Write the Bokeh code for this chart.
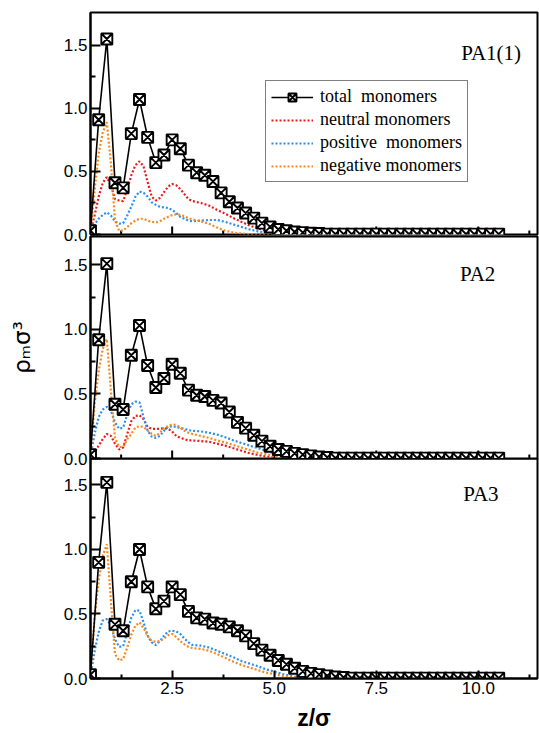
import math
from bokeh.plotting import figure
from bokeh.layouts import column
from bokeh.models import Range1d, FixedTicker, PrintfTickFormatter, Label, Legend, LegendItem
from bokeh.embed import file_html
from bokeh.resources import INLINE

# ---------------- data ----------------
Z_TOTAL = [0.5, 0.7, 0.9, 1.1, 1.3, 1.5, 1.7, 1.9, 2.1, 2.3, 2.5, 2.7, 2.9, 3.1, 3.3, 3.5, 3.7,
           3.9, 4.1, 4.3, 4.5, 4.7, 4.9, 5.1, 5.3, 5.5, 5.7, 5.9, 6.1, 6.3, 6.5, 6.7, 6.9, 7.1,
           7.3, 7.5, 7.7, 7.9, 8.1, 8.3, 8.5, 8.7, 8.9, 9.1, 9.3, 9.5, 9.7, 9.9, 10.1, 10.3, 10.5]

Z_CURVE = [0.5, 0.6, 0.7, 0.8, 0.9, 1.0, 1.1, 1.2, 1.3, 1.4, 1.5, 1.6, 1.7, 1.8, 1.9, 2.0,
           2.1, 2.2, 2.3, 2.4, 2.5, 2.6, 2.7, 2.8, 2.9, 3.0, 3.2, 3.4, 3.6, 3.8, 4.0, 4.2,
           4.4, 4.6, 4.8, 5.0, 5.2, 5.4, 5.6, 5.8, 6.0, 10.5]

# PA1(1)
PA1_TOTAL = [0.03, 0.91, 1.55, 0.41, 0.37, 0.80, 1.07, 0.77, 0.57, 0.63, 0.75, 0.68, 0.55, 0.49,
             0.47, 0.42, 0.33, 0.26, 0.21, 0.17, 0.13, 0.09, 0.06, 0.04, 0.03, 0.02, 0.015, 0.01,
             0.008, 0.003, 0.003, 0.003, 0.003, 0.003, 0.003, 0.003, 0.003, 0.003, 0.003, 0.003,
             0.003, 0.003, 0.003, 0.003, 0.003, 0.003, 0.003, 0.003, 0.003, 0.003, 0.003]
PA1_NEUTRAL = [0.02, 0.15, 0.30, 0.41, 0.455, 0.39, 0.28, 0.27, 0.265, 0.36, 0.47, 0.55, 0.58,
               0.54, 0.415, 0.30, 0.27, 0.29, 0.335, 0.38, 0.40, 0.39, 0.36, 0.32, 0.28, 0.265,
               0.25, 0.23, 0.195, 0.165, 0.13, 0.10, 0.07, 0.05, 0.03, 0.02, 0.01, 0.005, 0.003,
               0.002, 0.001, 0.0]
PA1_POSITIVE = [0.01, 0.08, 0.125, 0.155, 0.175, 0.15, 0.105, 0.085, 0.09, 0.15, 0.22, 0.30, 0.34,
                0.33, 0.30, 0.255, 0.235, 0.22, 0.215, 0.21, 0.195, 0.17, 0.14, 0.125, 0.11, 0.105,
                0.11, 0.115, 0.115, 0.10, 0.08, 0.06, 0.04, 0.025, 0.015, 0.008, 0.003, 0.002,
                0.001, 0.0, 0.0, 0.0]
PA1_NEGATIVE = [0.01, 0.35, 0.64, 0.81, 0.89, 0.56, 0.11, 0.03, 0.03, 0.06, 0.09, 0.11, 0.125,
                0.125, 0.11, 0.10, 0.095, 0.105, 0.125, 0.14, 0.155, 0.16, 0.155, 0.145, 0.13, 0.12,
                0.105, 0.085, 0.055, 0.03, 0.015, 0.008, 0.003, 0.001, 0.0, 0.0, 0.0, 0.0, 0.0,
                0.0, 0.0, 0.0]

# PA2
PA2_TOTAL = [0.03, 0.92, 1.51, 0.42, 0.38, 0.80, 1.03, 0.72, 0.55, 0.62, 0.73, 0.66, 0.53, 0.49,
             0.48, 0.45, 0.43, 0.36, 0.28, 0.235, 0.18, 0.135, 0.095, 0.07, 0.055, 0.04, 0.03,
             0.02, 0.012, 0.008, 0.003, 0.003, 0.003, 0.003, 0.003, 0.003, 0.003, 0.003, 0.003,
             0.003, 0.003, 0.003, 0.003, 0.003, 0.003, 0.003, 0.003, 0.003, 0.003, 0.003, 0.003]
PA2_NEUTRAL = [0.01, 0.045, 0.10, 0.15, 0.19, 0.175, 0.115, 0.07, 0.085, 0.19, 0.29, 0.33, 0.335,
               0.305, 0.245, 0.23, 0.23, 0.23, 0.235, 0.23, 0.21, 0.175, 0.16, 0.15, 0.14, 0.14,
               0.135, 0.13, 0.115, 0.10, 0.08, 0.06, 0.04, 0.028, 0.015, 0.008, 0.003, 0.001,
               0.0, 0.0, 0.0, 0.0]
PA2_POSITIVE = [0.02, 0.19, 0.32, 0.38, 0.40, 0.37, 0.28, 0.23, 0.24, 0.34, 0.42, 0.44, 0.435,
                0.32, 0.215, 0.17, 0.16, 0.175, 0.215, 0.245, 0.25, 0.245, 0.235, 0.23, 0.22, 0.215,
                0.21, 0.20, 0.185, 0.165, 0.14, 0.12, 0.10, 0.08, 0.06, 0.04, 0.025, 0.012, 0.005,
                0.002, 0.001, 0.0]
PA2_NEGATIVE = [0.02, 0.42, 0.68, 0.85, 0.925, 0.52, 0.16, 0.09, 0.09, 0.15, 0.19, 0.24, 0.25,
                0.245, 0.215, 0.19, 0.175, 0.20, 0.235, 0.25, 0.265, 0.26, 0.24, 0.215, 0.20, 0.19,
                0.175, 0.16, 0.14, 0.125, 0.105, 0.085, 0.065, 0.045, 0.035, 0.02, 0.01, 0.005,
                0.002, 0.001, 0.0, 0.0]

# PA3
PA3_TOTAL = [0.03, 0.90, 1.52, 0.42, 0.37, 0.75, 1.00, 0.71, 0.54, 0.60, 0.71, 0.65, 0.52, 0.47,
             0.46, 0.43, 0.42, 0.40, 0.37, 0.33, 0.27, 0.22, 0.18, 0.14, 0.11, 0.08, 0.055, 0.04,
             0.03, 0.02, 0.012, 0.008, 0.003, 0.003, 0.003, 0.003, 0.003, 0.003, 0.003, 0.003,
             0.003, 0.003, 0.003, 0.003, 0.003, 0.003, 0.003, 0.003, 0.003, 0.003, 0.003]
PA3_POSITIVE = [0.02, 0.21, 0.36, 0.45, 0.46, 0.41, 0.305, 0.245, 0.25, 0.36, 0.47, 0.53, 0.525,
                0.435, 0.33, 0.28, 0.26, 0.29, 0.33, 0.365, 0.37, 0.365, 0.345, 0.31, 0.28, 0.26,
                0.255, 0.24, 0.215, 0.19, 0.165, 0.135, 0.115, 0.095, 0.07, 0.055, 0.035, 0.02,
                0.01, 0.005, 0.002, 0.0]
PA3_NEGATIVE = [0.02, 0.47, 0.76, 0.95, 1.04, 0.60, 0.19, 0.14, 0.15, 0.24, 0.34, 0.41, 0.435,
                0.39, 0.33, 0.29, 0.285, 0.29, 0.31, 0.335, 0.345, 0.32, 0.29, 0.265, 0.245, 0.235,
                0.23, 0.215, 0.19, 0.16, 0.13, 0.105, 0.085, 0.065, 0.045, 0.035, 0.02, 0.01,
                0.005, 0.002, 0.001, 0.0]

X_TICKS = [2.5, 5.0, 7.5, 10.0]
X_MINOR = [1.25, 3.75, 6.25, 8.75, 11.25]
Y_TICKS = [0.0, 0.5, 1.0, 1.5]
Y_MINOR = [0.25, 0.75, 1.25]

LEGEND_LABELS = ["total  monomers", "neutral monomers", "positive  monomers", "negative monomers"]

RED = "#f01a1a"
BLUE = "#2a8ff0"
ORANGE = "#f7881c"

SANS = "Liberation Sans"
SERIF = "Liberation Serif"

OVERLAP = 14  # px by which a lower panel is pulled up under the one above


def make_panel(y_top, frame_h, border_top, border_bottom, with_x_axis, margin_top):
    p = figure(frame_width=447, frame_height=frame_h,
               x_range=Range1d(0.5, 11.45), y_range=Range1d(0, y_top),
               output_backend="svg", toolbar_location=None,
               x_axis_location="below" if with_x_axis else None,
               min_border_left=90, min_border_right=2, min_border_top=border_top,
               min_border_bottom=border_bottom,
               background_fill_alpha=0.0, border_fill_alpha=0.0,
               margin=(margin_top, 0, 0, 0))
    p.grid.visible = False
    p.outline_line_color = "black"
    p.outline_line_width = 2
    p.outline_line_alpha = 1.0

    axes = [p.yaxis[0]]
    ya = p.yaxis[0]
    ya.ticker = FixedTicker(ticks=Y_TICKS, minor_ticks=Y_MINOR)
    ya.formatter = PrintfTickFormatter(format="%.1f")
    ya.major_tick_in = 10
    ya.minor_tick_in = 5
    ya.major_label_standoff = 3
    if with_x_axis:
        xa = p.xaxis[0]
        xa.ticker = FixedTicker(ticks=X_TICKS, minor_ticks=X_MINOR)
        xa.formatter = PrintfTickFormatter(format="%.1f")
        xa.major_tick_in = 8
        xa.minor_tick_in = 4
        xa.major_label_standoff = 3
        axes.append(xa)
    else:
        # inward x ticks along the bottom edge of the panel
        p.ray(x=X_TICKS, y=[0.0] * len(X_TICKS), length=8, length_units="screen",
              angle=math.pi / 2, line_color="black", line_width=2)
        p.ray(x=X_MINOR, y=[0.0] * len(X_MINOR), length=4, length_units="screen",
              angle=math.pi / 2, line_color="black", line_width=2)
    for ax in axes:
        ax.axis_line_width = 2
        ax.axis_line_color = "black"
        ax.major_tick_line_width = 2
        ax.minor_tick_line_width = 2
        ax.major_tick_out = 0
        ax.minor_tick_out = 0
        ax.major_label_text_font = SANS
        ax.major_label_text_font_size = "17px"
        ax.major_label_text_color = "black"
    return p


def draw(p, neutral, positive, negative, total):
    rends = {}
    if neutral is not None:
        rends["n"] = p.line(Z_CURVE, neutral, line_color=RED, line_width=2.2, line_dash="2 2")
    rends["p"] = p.line(Z_CURVE, positive, line_color=BLUE, line_width=2.2, line_dash="2 2")
    rends["g"] = p.line(Z_CURVE, negative, line_color=ORANGE, line_width=2.2, line_dash="2 2")
    rends["tl"] = p.line(Z_TOTAL, total, line_color="black", line_width=1.6)
    rends["ts"] = p.scatter(Z_TOTAL, total, marker="square_x", size=11, line_color="black",
                            line_width=1.9, fill_color="white")
    return rends


def tag(p, text, x, y):
    p.add_layout(Label(x=x, y=y, text=text, text_font=SERIF, text_font_size="21px",
                       text_align="left", text_baseline="middle", text_color="black"))


# top panel
p1 = make_panel(1.76, 222, 12, OVERLAP, False, 0)
r1 = draw(p1, PA1_NEUTRAL, PA1_POSITIVE, PA1_NEGATIVE, PA1_TOTAL)
tag(p1, "PA1(1)", 9.58, 1.44)
legend = Legend(items=[
    LegendItem(label=LEGEND_LABELS[0], renderers=[r1["tl"], r1["ts"]]),
    LegendItem(label=LEGEND_LABELS[1], renderers=[r1["n"]]),
    LegendItem(label=LEGEND_LABELS[2], renderers=[r1["p"]]),
    LegendItem(label=LEGEND_LABELS[3], renderers=[r1["g"]]),
], location=(175, 52))
legend.border_line_color = "black"
legend.border_line_width = 1.5
legend.background_fill_color = "white"
legend.background_fill_alpha = 1.0
legend.label_text_font = SERIF
legend.label_text_font_size = "18px"
legend.label_text_color = "black"
legend.glyph_width = 42
legend.glyph_height = 20
legend.label_height = 20
legend.label_standoff = 7
legend.spacing = 2
legend.padding = 5
legend.margin = 0
p1.add_layout(legend)

# middle panel
p2 = make_panel(1.72, 222, 2, OVERLAP, False, -OVERLAP)
draw(p2, PA2_NEUTRAL, PA2_POSITIVE, PA2_NEGATIVE, PA2_TOTAL)
tag(p2, "PA2", 9.55, 1.43)
p2.yaxis[0].axis_label = "ρₘσ³"
p2.yaxis[0].axis_label_text_font = "DejaVu Sans"
p2.yaxis[0].axis_label_text_font_size = "23px"
p2.yaxis[0].axis_label_text_font_style = "normal"
p2.yaxis[0].axis_label_text_color = "black"
p2.yaxis[0].axis_label_standoff = 26

# bottom panel
p3 = make_panel(1.705, 220, 0, 0, True, -OVERLAP)
draw(p3, None, PA3_POSITIVE, PA3_NEGATIVE, PA3_TOTAL)
tag(p3, "PA3", 9.63, 1.43)
p3.xaxis[0].axis_label = "z/σ"
p3.xaxis[0].axis_label_text_font = SANS
p3.xaxis[0].axis_label_text_font_size = "23px"
p3.xaxis[0].axis_label_text_font_style = "bold"
p3.xaxis[0].axis_label_text_color = "black"
p3.xaxis[0].axis_label_standoff = 8

layout = column(p1, p2, p3, spacing=0)

with open("out.html", "w") as f:
    f.write(file_html(layout, INLINE))
